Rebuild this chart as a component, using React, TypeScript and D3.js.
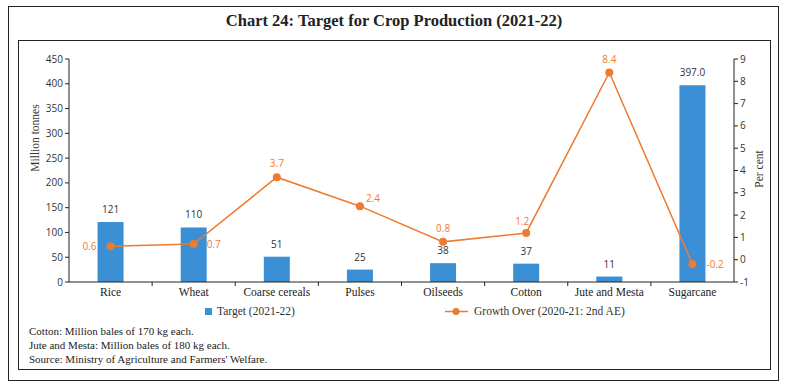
import React from "react";
import * as d3 from "d3";

const categories = ["Rice", "Wheat", "Coarse cereals", "Pulses", "Oilseeds", "Cotton", "Jute and Mesta", "Sugarcane"];
const targetValues = [121, 110, 51, 25, 38, 37, 11, 397];
const targetLabels = ["121", "110", "51", "25", "38", "37", "11", "397.0"];
const growthValues = [0.6, 0.7, 3.7, 2.4, 0.8, 1.2, 8.4, -0.2];
const leftTicks = [0, 50, 100, 150, 200, 250, 300, 350, 400, 450];
const rightTicks = [-1, 0, 1, 2, 3, 4, 5, 6, 7, 8, 9];
const notes = [
  "Cotton: Million bales of 170 kg each.",
  "Jute and Mesta: Million bales of 180 kg each.",
  "Source: Ministry of Agriculture and Farmers' Welfare.",
];
// label placement per growth point: [dx, dy, anchor]
const growthLabelPos: [number, number, string][] = [
  [-14, 0, "end"],
  [13, 0, "start"],
  [0, -14, "middle"],
  [13, -8, "middle"],
  [0, -13, "middle"],
  [-4, -11, "middle"],
  [0, -13, "middle"],
  [14, 0, "start"],
];

const BLUE = "#3B8FD5";
const ORANGE = "#EE7B30";
const SERIF = "'Liberation Serif', 'DejaVu Serif', serif";
const SANS = "'Open Sans', 'Noto Sans', sans-serif";

export default function App() {
  const W = 789, H = 388;
  const x0 = 69, x1 = 734, yTop = 59, yBot = 282;
  const x = d3.scaleBand<string>().domain(categories).range([x0, x1]);
  const yL = d3.scaleLinear().domain([0, 450]).range([yBot, yTop]);
  const yR = d3.scaleLinear().domain([-1, 9]).range([yBot, yTop]);
  const barW = 26;
  const cx = (c: string) => (x(c) as number) + x.bandwidth() / 2;
  const line = d3.line<number>().x((_, i) => cx(categories[i])).y((d) => yR(d));

  return (
    <svg width={W} height={H} style={{ position: "absolute", left: 0, top: 0, background: "#fff" }}>
      <rect x={8.5} y={6.5} width={770} height={374} fill="none" stroke="#222" strokeWidth={1} />
      <rect x={18.5} y={40.5} width={752} height={329} fill="none" stroke="#222" strokeWidth={1} />
      <text x={394} y={26} textAnchor="middle" fontFamily={SERIF} fontWeight="bold" fontSize={16.5} fill="#222">
        Chart 24: Target for Crop Production (2021-22)
      </text>

      {/* left axis */}
      <line x1={x0} x2={x0} y1={yTop} y2={yBot} stroke="#222" />
      {leftTicks.map((t) => (
        <g key={"l" + t}>
          <line x1={x0 - 4} x2={x0} y1={yL(t)} y2={yL(t)} stroke="#222" />
          <text x={x0 - 6} y={yL(t)} dy="0.35em" textAnchor="end" fontFamily={SANS} fontSize={10} fill="#333">{t}</text>
        </g>
      ))}
      <text transform={`translate(39,138) rotate(-90)`} textAnchor="middle" fontFamily={SERIF} fontSize={11.5} fill="#333">
        Million tonnes
      </text>

      {/* right axis */}
      <line x1={x1} x2={x1} y1={yTop} y2={yBot} stroke="#222" />
      {rightTicks.map((t) => (
        <g key={"r" + t}>
          <line x1={x1} x2={x1 + 4} y1={yR(t)} y2={yR(t)} stroke="#222" />
          <text x={x1 + 6} y={yR(t)} dy="0.35em" textAnchor="start" fontFamily={SANS} fontSize={10} fill="#333">{t}</text>
        </g>
      ))}
      <text transform={`translate(763,169) rotate(-90)`} textAnchor="middle" fontFamily={SERIF} fontSize={11.5} fill="#333">
        Per cent
      </text>

      {/* bars */}
      {categories.map((c, i) => (
        <g key={"b" + c}>
          <rect x={cx(c) - barW / 2} y={yL(targetValues[i])} width={barW} height={yBot - yL(targetValues[i])} fill={BLUE} />
          <text x={cx(c)} y={yL(targetValues[i]) - 9} textAnchor="middle" fontFamily={SANS} fontSize={10} fill="#333">
            {targetLabels[i]}
          </text>
        </g>
      ))}

      {/* x axis */}
      <line x1={x0} x2={x1} y1={yBot} y2={yBot} stroke="#222" />
      {categories.map((c, i) => (
        <g key={"x" + c}>
          {i > 0 && <line x1={x(c) as number} x2={x(c) as number} y1={yBot} y2={yBot + 4} stroke="#222" />}
          <text x={cx(c)} y={yBot + 14} textAnchor="middle" fontFamily={SERIF} fontSize={11.5} fill="#222">{c}</text>
        </g>
      ))}

      {/* line */}
      <path d={line(growthValues) || ""} fill="none" stroke={ORANGE} strokeWidth={1.5} />
      {growthValues.map((v, i) => {
        const px = cx(categories[i]);
        const py = yR(v);
        const [dx, dy, anchor] = growthLabelPos[i];
        return (
          <g key={"g" + i}>
            <circle cx={px} cy={py} r={4} fill={ORANGE} />
            <text x={px + dx} y={py + dy} dy="0.35em" textAnchor={anchor as any} fontFamily={SANS} fontSize={10} fill={ORANGE}>
              {v.toFixed(1)}
            </text>
          </g>
        );
      })}

      {/* legend */}
      <rect x={205} y={308} width={7} height={7} fill={BLUE} />
      <text x={217} y={315} fontFamily={SERIF} fontSize={11.5} fill="#333">Target (2021-22)</text>
      <line x1={445} x2={468} y1={311.5} y2={311.5} stroke={ORANGE} strokeWidth={1.5} />
      <circle cx={456} cy={311.5} r={3.5} fill={ORANGE} />
      <text x={474} y={315} fontFamily={SERIF} fontSize={11.5} fill="#333">Growth Over (2020-21: 2nd AE)</text>

      {notes.map((n, i) => (
        <text key={"n" + i} x={29} y={335 + i * 14} fontFamily={SERIF} fontSize={11} fill="#222">{n}</text>
      ))}
    </svg>
  );
}
